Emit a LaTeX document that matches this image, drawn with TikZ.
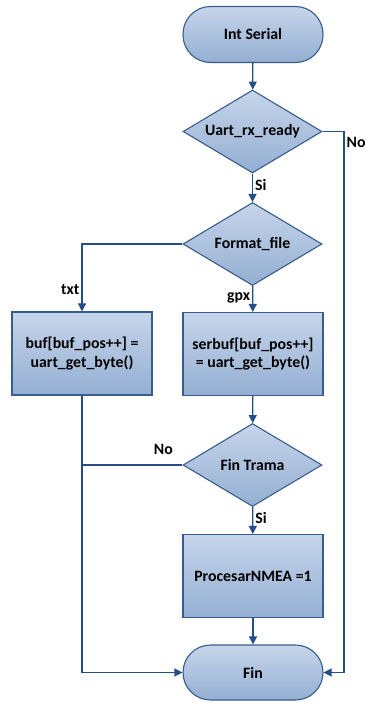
\documentclass[tikz,border=0pt]{standalone}
\usepackage{fontspec}
\setmainfont{Carlito}
\usetikzlibrary{arrows.meta,shapes.geometric}
\definecolor{edgeblue}{RGB}{56,93,138}
\definecolor{lineblue}{RGB}{38,78,134}
\definecolor{filltop}{RGB}{198,213,234}
\definecolor{fillbot}{RGB}{148,175,211}
\tikzset{
  block/.style={draw=edgeblue, line width=1.1pt, top color=filltop, bottom color=fillbot,
    font=\fontsize{15.8}{18.5}\selectfont\bfseries, align=center, inner sep=0pt},
  term/.style={block, rounded corners=27.5pt, minimum width=140pt, minimum height=56pt},
  proc/.style={block, minimum width=140pt, minimum height=83pt},
  decide/.style={block, diamond, aspect=1.67, minimum width=139pt, minimum height=83pt},
  flow/.style={draw=lineblue, line width=1.3pt, -{Triangle[length=8pt,width=8pt]}},
  link/.style={draw=lineblue, line width=1.3pt},
  lbl/.style={font=\fontsize{15.8}{18}\selectfont\bfseries, inner sep=2pt}
}

\begin{document}
\begin{tikzpicture}[x=1pt,y=-1pt]
			%%%%% START %%%%%
			\useasboundingbox (0,0) rectangle (366,702);
			
			\node[term] (start) at (253, 34.5) {Int Serial};
			\node[decide] (rxready) at (252.5, 131.5) {Uart\_rx\_ready};
			\node[decide] (format) at (252.5, 244) {Format\_file};
			\node[proc] (buf) at (82, 353.5) {buf[buf\_pos++] =\\uart\_get\_byte()};
			\node[proc] (serbuf) at (253, 354) {serbuf[buf\_pos++]\\= uart\_get\_byte()};
			\node[decide] (trama) at (252.5, 465) {Fin Trama};
			\node[proc] (nmea) at (253, 576) {ProcesarNMEA =1};
			\node[term, minimum height=55pt] (fin) at (253, 672.5) {Fin};
			
			\coordinate (rside) at (344, 131.5);
			
			\draw[flow] (start) -- (rxready);
			\draw[flow] (rxready) -- node[lbl, right, pos=0.4] {Si} (format);
			\draw[flow] (format.west) -| node[lbl, left, pos=0.84] {txt} (buf.north);
			\draw[flow] (format) -- node[lbl, left, pos=0.45] {gpx} (serbuf);
			\draw[flow] (serbuf) -- (trama);
			\draw[flow] (trama) -- node[lbl, right, pos=0.4] {Si} (nmea);
			\draw[flow] (nmea) -- (fin);
			
			\draw[link] (trama.west) -- node[lbl, above=8pt, pos=0.19] {No} (trama.west -| buf.south);
			\draw[flow] (buf.south) -- (buf.south |- fin.west) -- (fin.west);
			\draw[flow] (rxready.east) -- (rside) |- node[lbl, right, pos=0.01] {No} (fin.east);
			
			%%%%% END %%%%%
		\end{tikzpicture}
\end{document}
